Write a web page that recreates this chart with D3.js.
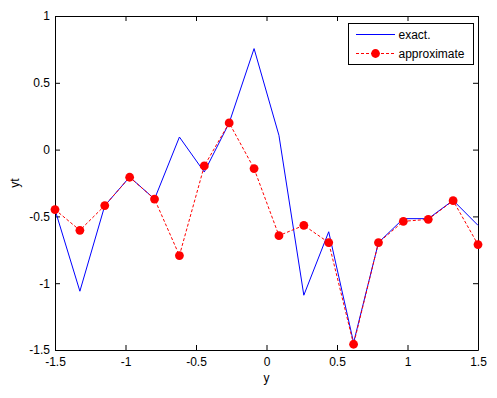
<!DOCTYPE html>
<html>
<head>
<meta charset="utf-8">
<script src="https://cdn.jsdelivr.net/npm/d3@7"></script>
<style>
  body { margin: 0; background: #fff; }
  svg text { font-family: "Liberation Sans", Arial, sans-serif; font-size: 12px; fill: #000; }
</style>
</head>
<body>
<div id="chart"></div>
<script>
// sample positions (18 nodes on [-1.5, 1.5])
const xs = [-1.5, -1.3235, -1.1471, -0.9706, -0.7941, -0.6176, -0.4412, -0.2647, -0.0882,
            0.0882, 0.2647, 0.4412, 0.6176, 0.7941, 0.9706, 1.1471, 1.3235, 1.5];
const exactVals = [-0.45, -1.06, -0.42, -0.205, -0.37, 0.094, -0.168, 0.2, 0.756,
                   0.107, -1.09, -0.615, -1.445, -0.696, -0.517, -0.517, -0.38, -0.567];
const approxVals = [-0.449, -0.604, -0.419, -0.207, -0.37, -0.793, -0.122, 0.2, -0.142,
                    -0.644, -0.567, -0.696, -1.457, -0.696, -0.537, -0.522, -0.382, -0.711];
const xTicks = [-1.5, -1, -0.5, 0, 0.5, 1, 1.5];
const yTicks = [-1.5, -1, -0.5, 0, 0.5, 1];
const seriesNames = ["exact.", "approximate"];

const W = 497, H = 398;
const margin = { top: 16, right: 19, bottom: 48, left: 55 };
const w = W - margin.left - margin.right;
const h = H - margin.top - margin.bottom;

const svg = d3.select("#chart").append("svg")
    .attr("width", W)
    .attr("height", H);

const g = svg.append("g")
    .attr("transform", `translate(${margin.left},${margin.top})`);

const x = d3.scaleLinear().domain([-1.5, 1.5]).range([0, w]);
const y = d3.scaleLinear().domain([-1.5, 1]).range([h, 0]);

const fmt = d => String(d);

// axes: ticks point inward, box on all sides
g.append("g")
    .attr("transform", `translate(0,${h})`)
    .call(d3.axisBottom(x).tickValues(xTicks).tickFormat(fmt).tickSizeInner(-5).tickSizeOuter(0).tickPadding(7));
g.append("g")
    .call(d3.axisTop(x).tickValues(xTicks).tickFormat("").tickSizeInner(-5).tickSizeOuter(0));
g.append("g")
    .call(d3.axisLeft(y).tickValues(yTicks).tickFormat(fmt).tickSizeInner(-5).tickSizeOuter(0).tickPadding(5));
g.append("g")
    .attr("transform", `translate(${w},0)`)
    .call(d3.axisRight(y).tickValues(yTicks).tickFormat("").tickSizeInner(-5).tickSizeOuter(0));

g.selectAll(".domain").attr("stroke", "#000").attr("stroke-width", 1);
g.selectAll(".tick line").attr("stroke", "#000");
g.selectAll(".tick text").attr("font-size", 12).attr("font-family", "Liberation Sans, Arial, sans-serif");

// lines
const line = d3.line()
    .x((d, i) => x(xs[i]))
    .y(d => y(d));

g.append("path")
    .datum(exactVals)
    .attr("fill", "none")
    .attr("stroke", "#0000ff")
    .attr("stroke-width", 1)
    .attr("d", line);

g.append("path")
    .datum(approxVals)
    .attr("fill", "none")
    .attr("stroke", "#ff0000")
    .attr("stroke-width", 1)
    .attr("stroke-dasharray", "3,2")
    .attr("d", line);

g.selectAll(".dot")
    .data(approxVals)
    .enter().append("circle")
    .attr("class", "dot")
    .attr("cx", (d, i) => x(xs[i]))
    .attr("cy", d => y(d))
    .attr("r", 4.4)
    .attr("fill", "#ff0000");

// axis labels
svg.append("text")
    .attr("x", margin.left + w / 2)
    .attr("y", 382)
    .attr("text-anchor", "middle")
    .text("y");

svg.append("text")
    .attr("transform", `translate(19,${margin.top + h / 2}) rotate(-90)`)
    .attr("text-anchor", "middle")
    .text("yt");

// legend
const legend = svg.append("g").attr("transform", "translate(348.5,23.5)");
legend.append("rect")
    .attr("width", 125)
    .attr("height", 41)
    .attr("fill", "#fff")
    .attr("stroke", "#000");

legend.append("line")
    .attr("x1", 7.5).attr("x2", 46.5)
    .attr("y1", 11).attr("y2", 11)
    .attr("stroke", "#0000ff");
legend.append("text")
    .attr("x", 50).attr("y", 11).attr("dy", "0.35em")
    .text(seriesNames[0]);

legend.append("line")
    .attr("x1", 7.5).attr("x2", 46.5)
    .attr("y1", 30).attr("y2", 30)
    .attr("stroke", "#ff0000")
    .attr("stroke-dasharray", "3,2");
legend.append("circle")
    .attr("cx", 27).attr("cy", 30).attr("r", 4.4)
    .attr("fill", "#ff0000");
legend.append("text")
    .attr("x", 50).attr("y", 30).attr("dy", "0.35em")
    .text(seriesNames[1]);
</script>
</body>
</html>
